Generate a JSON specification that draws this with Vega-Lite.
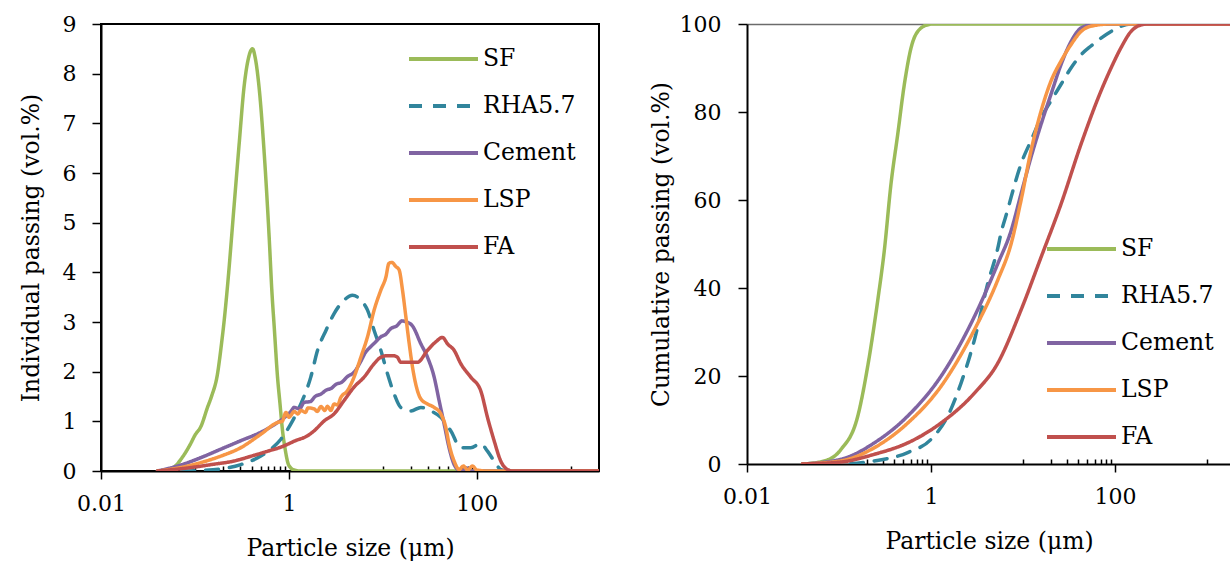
{
  "$schema": "https://vega.github.io/schema/vega-lite/v6.json",
  "background": "white",
  "padding": {"left": 18, "top": 12, "right": 0, "bottom": 0},
  "config": {
    "font": "DejaVu Serif",
    "view": {"stroke": "black", "strokeWidth": 2},
    "axis": {
      "labelFont": "DejaVu Serif", "titleFont": "DejaVu Serif",
      "labelFontSize": 22, "titleFontSize": 23.5, "titleFontWeight": "normal",
      "labelColor": "black", "titleColor": "black",
      "domainColor": "black", "tickColor": "black", "domainWidth": 2, "tickWidth": 1.5, "grid": false
    },
    "legend": {
      "title": null, "labelFont": "DejaVu Serif", "labelFontSize": 23.5, "labelColor": "black",
      "symbolType": "stroke", "symbolSize": 4761, "symbolStrokeWidth": 4, "clipHeight": 24,
      "rowPadding": 23, "labelOffset": 3, "padding": 0, "symbolOffset": 0, "orient": "none"
    }
  },
  "datasets": {
    "ind": [
      {"m":"SF","d":0.04,"v":0},{"m":"SF","d":0.05,"v":0.02},{"m":"SF","d":0.06,"v":0.08},{"m":"SF","d":0.075,"v":0.3},{"m":"SF","d":0.09,"v":0.55},{"m":"SF","d":0.1,"v":0.72},{"m":"SF","d":0.116,"v":0.9},{"m":"SF","d":0.136,"v":1.28},{"m":"SF","d":0.15,"v":1.5},{"m":"SF","d":0.174,"v":1.96},{"m":"SF","d":0.19,"v":2.5},{"m":"SF","d":0.205,"v":3.04},{"m":"SF","d":0.224,"v":3.8},{"m":"SF","d":0.26,"v":5.3},{"m":"SF","d":0.296,"v":6.6},{"m":"SF","d":0.334,"v":7.75},{"m":"SF","d":0.37,"v":8.3},{"m":"SF","d":0.41,"v":8.5},{"m":"SF","d":0.44,"v":8.3},{"m":"SF","d":0.483,"v":7.7},{"m":"SF","d":0.546,"v":6.4},{"m":"SF","d":0.617,"v":4.7},{"m":"SF","d":0.66,"v":3.6},{"m":"SF","d":0.698,"v":2.9},{"m":"SF","d":0.76,"v":1.85},{"m":"SF","d":0.8,"v":1.4},{"m":"SF","d":0.857,"v":0.8},{"m":"SF","d":0.92,"v":0.4},{"m":"SF","d":0.97,"v":0.18},{"m":"SF","d":1.05,"v":0.06},{"m":"SF","d":1.14,"v":0.02},{"m":"SF","d":1.3,"v":0},{"m":"SF","d":2000,"v":0},
      {"m":"RHA5.7","d":0.04,"v":0},{"m":"RHA5.7","d":0.07,"v":0},{"m":"RHA5.7","d":0.116,"v":0.01},{"m":"RHA5.7","d":0.189,"v":0.04},{"m":"RHA5.7","d":0.308,"v":0.13},{"m":"RHA5.7","d":0.503,"v":0.3},{"m":"RHA5.7","d":0.644,"v":0.44},{"m":"RHA5.7","d":0.822,"v":0.64},{"m":"RHA5.7","d":1.05,"v":0.95},{"m":"RHA5.7","d":1.34,"v":1.35},{"m":"RHA5.7","d":1.71,"v":1.89},{"m":"RHA5.7","d":2.02,"v":2.43},{"m":"RHA5.7","d":2.48,"v":2.83},{"m":"RHA5.7","d":3.03,"v":3.17},{"m":"RHA5.7","d":3.87,"v":3.44},{"m":"RHA5.7","d":4.75,"v":3.54},{"m":"RHA5.7","d":5.83,"v":3.44},{"m":"RHA5.7","d":6.87,"v":3.24},{"m":"RHA5.7","d":8.08,"v":2.83},{"m":"RHA5.7","d":9.52,"v":2.43},{"m":"RHA5.7","d":11.2,"v":1.96},{"m":"RHA5.7","d":13.2,"v":1.55},{"m":"RHA5.7","d":15.5,"v":1.28},{"m":"RHA5.7","d":19.9,"v":1.21},{"m":"RHA5.7","d":25.4,"v":1.28},{"m":"RHA5.7","d":32.4,"v":1.21},{"m":"RHA5.7","d":41.4,"v":1.08},{"m":"RHA5.7","d":52.8,"v":0.81},{"m":"RHA5.7","d":67.6,"v":0.47},{"m":"RHA5.7","d":86.3,"v":0.47},{"m":"RHA5.7","d":110,"v":0.55},{"m":"RHA5.7","d":130,"v":0.4},{"m":"RHA5.7","d":153,"v":0.2},{"m":"RHA5.7","d":180,"v":0.03},{"m":"RHA5.7","d":212,"v":0},{"m":"RHA5.7","d":2000,"v":0},
      {"m":"Cement","d":0.04,"v":0},{"m":"Cement","d":0.071,"v":0.12},{"m":"Cement","d":0.116,"v":0.27},{"m":"Cement","d":0.189,"v":0.44},{"m":"Cement","d":0.308,"v":0.61},{"m":"Cement","d":0.503,"v":0.78},{"m":"Cement","d":0.764,"v":0.98},{"m":"Cement","d":0.93,"v":1.1},{"m":"Cement","d":1.05,"v":1.2},{"m":"Cement","d":1.14,"v":1.28},{"m":"Cement","d":1.3,"v":1.25},{"m":"Cement","d":1.45,"v":1.38},{"m":"Cement","d":1.7,"v":1.4},{"m":"Cement","d":1.9,"v":1.5},{"m":"Cement","d":2.2,"v":1.55},{"m":"Cement","d":2.5,"v":1.63},{"m":"Cement","d":2.8,"v":1.66},{"m":"Cement","d":3.2,"v":1.75},{"m":"Cement","d":3.6,"v":1.78},{"m":"Cement","d":4.2,"v":1.9},{"m":"Cement","d":5,"v":2.0},{"m":"Cement","d":5.8,"v":2.2},{"m":"Cement","d":6.5,"v":2.38},{"m":"Cement","d":7.4,"v":2.5},{"m":"Cement","d":8.4,"v":2.6},{"m":"Cement","d":9.5,"v":2.7},{"m":"Cement","d":10.7,"v":2.75},{"m":"Cement","d":12.2,"v":2.87},{"m":"Cement","d":14,"v":2.92},{"m":"Cement","d":16,"v":3.02},{"m":"Cement","d":18,"v":3.0},{"m":"Cement","d":20.7,"v":2.92},{"m":"Cement","d":25.4,"v":2.56},{"m":"Cement","d":29.9,"v":2.29},{"m":"Cement","d":35.2,"v":1.89},{"m":"Cement","d":39.7,"v":1.42},{"m":"Cement","d":44.9,"v":0.95},{"m":"Cement","d":50.7,"v":0.47},{"m":"Cement","d":57.4,"v":0.13},{"m":"Cement","d":64,"v":0.02},{"m":"Cement","d":70,"v":0},{"m":"Cement","d":78,"v":0.06},{"m":"Cement","d":85,"v":0},{"m":"Cement","d":2000,"v":0},
      {"m":"LSP","d":0.04,"v":0},{"m":"LSP","d":0.071,"v":0.07},{"m":"LSP","d":0.116,"v":0.17},{"m":"LSP","d":0.189,"v":0.3},{"m":"LSP","d":0.308,"v":0.47},{"m":"LSP","d":0.503,"v":0.74},{"m":"LSP","d":0.764,"v":0.98},{"m":"LSP","d":0.85,"v":1.0},{"m":"LSP","d":0.93,"v":1.18},{"m":"LSP","d":1.0,"v":1.08},{"m":"LSP","d":1.05,"v":1.12},{"m":"LSP","d":1.14,"v":1.2},{"m":"LSP","d":1.25,"v":1.15},{"m":"LSP","d":1.34,"v":1.22},{"m":"LSP","d":1.5,"v":1.18},{"m":"LSP","d":1.6,"v":1.27},{"m":"LSP","d":1.86,"v":1.25},{"m":"LSP","d":2.0,"v":1.2},{"m":"LSP","d":2.2,"v":1.3},{"m":"LSP","d":2.4,"v":1.22},{"m":"LSP","d":2.58,"v":1.3},{"m":"LSP","d":2.8,"v":1.22},{"m":"LSP","d":3.03,"v":1.35},{"m":"LSP","d":3.3,"v":1.33},{"m":"LSP","d":3.57,"v":1.48},{"m":"LSP","d":4.21,"v":1.62},{"m":"LSP","d":4.94,"v":1.89},{"m":"LSP","d":5.83,"v":2.29},{"m":"LSP","d":6.87,"v":2.7},{"m":"LSP","d":8.08,"v":3.24},{"m":"LSP","d":9.52,"v":3.64},{"m":"LSP","d":10.8,"v":3.91},{"m":"LSP","d":11.6,"v":4.18},{"m":"LSP","d":12.5,"v":4.2},{"m":"LSP","d":13.7,"v":4.12},{"m":"LSP","d":14.9,"v":4.05},{"m":"LSP","d":16.2,"v":3.64},{"m":"LSP","d":17.6,"v":3.1},{"m":"LSP","d":19.1,"v":2.56},{"m":"LSP","d":20.7,"v":2.09},{"m":"LSP","d":22.4,"v":1.75},{"m":"LSP","d":25.4,"v":1.45},{"m":"LSP","d":29.9,"v":1.35},{"m":"LSP","d":35.2,"v":1.28},{"m":"LSP","d":41.4,"v":1.15},{"m":"LSP","d":46.8,"v":0.88},{"m":"LSP","d":50.7,"v":0.54},{"m":"LSP","d":57.4,"v":0.2},{"m":"LSP","d":64.9,"v":0.03},{"m":"LSP","d":72,"v":0.1},{"m":"LSP","d":80,"v":0.02},{"m":"LSP","d":90,"v":0.1},{"m":"LSP","d":100,"v":0.02},{"m":"LSP","d":130,"v":0},{"m":"LSP","d":2000,"v":0},
      {"m":"FA","d":0.04,"v":0},{"m":"FA","d":0.06,"v":0.03},{"m":"FA","d":0.1,"v":0.08},{"m":"FA","d":0.15,"v":0.13},{"m":"FA","d":0.26,"v":0.2},{"m":"FA","d":0.4,"v":0.3},{"m":"FA","d":0.6,"v":0.4},{"m":"FA","d":0.82,"v":0.48},{"m":"FA","d":0.975,"v":0.54},{"m":"FA","d":1.14,"v":0.6},{"m":"FA","d":1.58,"v":0.71},{"m":"FA","d":1.86,"v":0.81},{"m":"FA","d":2.38,"v":1.01},{"m":"FA","d":3.03,"v":1.15},{"m":"FA","d":3.87,"v":1.42},{"m":"FA","d":4.94,"v":1.69},{"m":"FA","d":6.32,"v":1.89},{"m":"FA","d":8.08,"v":2.16},{"m":"FA","d":9.52,"v":2.29},{"m":"FA","d":11,"v":2.32},{"m":"FA","d":13,"v":2.32},{"m":"FA","d":14.3,"v":2.29},{"m":"FA","d":15.5,"v":2.19},{"m":"FA","d":19,"v":2.19},{"m":"FA","d":23.4,"v":2.19},{"m":"FA","d":29.9,"v":2.43},{"m":"FA","d":36.6,"v":2.6},{"m":"FA","d":43.2,"v":2.69},{"m":"FA","d":48.8,"v":2.56},{"m":"FA","d":57.4,"v":2.43},{"m":"FA","d":67.6,"v":2.16},{"m":"FA","d":86.3,"v":1.89},{"m":"FA","d":110,"v":1.62},{"m":"FA","d":130,"v":1.08},{"m":"FA","d":153,"v":0.61},{"m":"FA","d":180,"v":0.2},{"m":"FA","d":212,"v":0.03},{"m":"FA","d":240,"v":0},{"m":"FA","d":2000,"v":0}
    ],
    "cum": [
      {"m":"SF","d":0.04,"v":0},{"m":"SF","d":0.069,"v":0.68},{"m":"SF","d":0.105,"v":3.3},{"m":"SF","d":0.16,"v":10.9},{"m":"SF","d":0.205,"v":22.2},{"m":"SF","d":0.264,"v":37.3},{"m":"SF","d":0.311,"v":48.6},{"m":"SF","d":0.367,"v":63.6},{"m":"SF","d":0.435,"v":75},{"m":"SF","d":0.513,"v":86.3},{"m":"SF","d":0.607,"v":94.6},{"m":"SF","d":0.778,"v":99.1},{"m":"SF","d":0.92,"v":99.8},{"m":"SF","d":1,"v":100},{"m":"SF","d":2000,"v":100},
      {"m":"RHA5.7","d":0.04,"v":0},{"m":"RHA5.7","d":0.105,"v":0},{"m":"RHA5.7","d":0.242,"v":0.7},{"m":"RHA5.7","d":0.558,"v":2.6},{"m":"RHA5.7","d":1,"v":5.6},{"m":"RHA5.7","d":1.52,"v":10.9},{"m":"RHA5.7","d":2.12,"v":18.4},{"m":"RHA5.7","d":2.96,"v":28.2},{"m":"RHA5.7","d":4.13,"v":41},{"m":"RHA5.7","d":5.31,"v":49},{"m":"RHA5.7","d":5.77,"v":52.5},{"m":"RHA5.7","d":6.82,"v":57.8},{"m":"RHA5.7","d":7.41,"v":60.6},{"m":"RHA5.7","d":9.51,"v":68.2},{"m":"RHA5.7","d":12.2,"v":73.5},{"m":"RHA5.7","d":15.7,"v":78.7},{"m":"RHA5.7","d":20.1,"v":82.5},{"m":"RHA5.7","d":25.9,"v":86.3},{"m":"RHA5.7","d":33.2,"v":90},{"m":"RHA5.7","d":42.7,"v":93},{"m":"RHA5.7","d":54.8,"v":95},{"m":"RHA5.7","d":70.4,"v":96.8},{"m":"RHA5.7","d":90.5,"v":98.3},{"m":"RHA5.7","d":116,"v":99.5},{"m":"RHA5.7","d":149,"v":100},{"m":"RHA5.7","d":2000,"v":100},
      {"m":"Cement","d":0.04,"v":0},{"m":"Cement","d":0.105,"v":1.06},{"m":"Cement","d":0.242,"v":4.8},{"m":"Cement","d":0.558,"v":10.9},{"m":"Cement","d":1.28,"v":19.9},{"m":"Cement","d":2.96,"v":33.5},{"m":"Cement","d":5.31,"v":45.5},{"m":"Cement","d":7.41,"v":53},{"m":"Cement","d":9.51,"v":61.4},{"m":"Cement","d":12.2,"v":69.7},{"m":"Cement","d":15.7,"v":77.2},{"m":"Cement","d":20.1,"v":84},{"m":"Cement","d":25.9,"v":90.8},{"m":"Cement","d":33.2,"v":96},{"m":"Cement","d":42.7,"v":99.1},{"m":"Cement","d":54.8,"v":99.8},{"m":"Cement","d":70,"v":100},{"m":"Cement","d":2000,"v":100},
      {"m":"LSP","d":0.04,"v":0},{"m":"LSP","d":0.105,"v":0.7},{"m":"LSP","d":0.242,"v":3.7},{"m":"LSP","d":0.558,"v":9.3},{"m":"LSP","d":1.28,"v":17.6},{"m":"LSP","d":2.96,"v":30.5},{"m":"LSP","d":5.31,"v":41.8},{"m":"LSP","d":7.41,"v":50},{"m":"LSP","d":9.51,"v":59.9},{"m":"LSP","d":12.2,"v":71.2},{"m":"LSP","d":15.7,"v":80.2},{"m":"LSP","d":20.1,"v":87},{"m":"LSP","d":25.9,"v":91.6},{"m":"LSP","d":33.2,"v":95.3},{"m":"LSP","d":42.7,"v":98.3},{"m":"LSP","d":54.8,"v":99.5},{"m":"LSP","d":90,"v":100},{"m":"LSP","d":2000,"v":100},
      {"m":"FA","d":0.04,"v":0},{"m":"FA","d":0.105,"v":0.45},{"m":"FA","d":0.242,"v":2.2},{"m":"FA","d":0.558,"v":4.8},{"m":"FA","d":1.28,"v":9.3},{"m":"FA","d":2.96,"v":16.1},{"m":"FA","d":5.31,"v":22.9},{"m":"FA","d":9.51,"v":35},{"m":"FA","d":15.7,"v":47},{"m":"FA","d":25.9,"v":59.1},{"m":"FA","d":42.7,"v":72.7},{"m":"FA","d":70.4,"v":84.8},{"m":"FA","d":90.5,"v":90},{"m":"FA","d":116,"v":94.6},{"m":"FA","d":149,"v":98.3},{"m":"FA","d":192,"v":99.8},{"m":"FA","d":230,"v":100},{"m":"FA","d":2000,"v":100}
    ]
  },
  "spacing": 49,
  "resolve": {
    "scale": {"color": "independent", "strokeDash": "independent"},
    "legend": {"color": "independent", "strokeDash": "independent"}
  },
  "hconcat": [
    {
      "width": 498, "height": 447,
      "data": {"name": "ind"},
      "mark": {"type": "line", "strokeWidth": 3.5, "interpolate": "monotone", "strokeCap": "round", "strokeJoin": "round", "clip": true},
      "encoding": {
        "x": {
          "field": "d", "type": "quantitative",
          "scale": {"type": "log", "domain": [0.01, 2000], "nice": false},
          "axis": {
            "title": "Particle size (μm)", "format": "~g",
            "values": [0.01, 0.1, 0.2, 0.3, 0.4, 0.5, 0.6, 0.7, 0.8, 0.9, 1, 10, 20, 30, 40, 50, 60, 70, 80, 90, 100, 1000],
            "labelExpr": "(datum.value == 0.01 || datum.value == 1 || datum.value == 100) ? datum.label : ''",
            "tickSize": {"condition": {"test": "datum.value == 0.01 || datum.value == 1 || datum.value == 100", "value": 8}, "value": -5},
            "labelPadding": 14, "titlePadding": 22, "labelFlush": false, "labelOverlap": false
          }
        },
        "y": {
          "field": "v", "type": "quantitative",
          "scale": {"domain": [0, 9], "nice": false},
          "axis": {"title": "Individual passing (vol.%)", "values": [0,1,2,3,4,5,6,7,8,9], "tickSize": 9, "labelPadding": 16, "titlePadding": 19}
        },
        "color": {
          "field": "m", "type": "nominal",
          "scale": {"domain": ["SF", "RHA5.7", "Cement", "LSP", "FA"], "range": ["#9BBB59", "#31859C", "#8064A2", "#F79646", "#C0504D"]},
          "legend": {"legendX": 306, "legendY": 23}
        },
        "strokeDash": {
          "field": "m", "type": "nominal",
          "scale": {"domain": ["SF", "RHA5.7", "Cement", "LSP", "FA"], "range": [[1, 0], [13, 11], [1, 0], [1, 0], [1, 0]]},
          "legend": {"legendX": 306, "legendY": 23}
        }
      }
    },
    {
      "width": 484, "height": 440,
      "view": {"stroke": null},
      "data": {"name": "cum"},
      "mark": {"type": "line", "strokeWidth": 3.5, "interpolate": "monotone", "strokeCap": "round", "strokeJoin": "round", "clip": true},
      "encoding": {
        "x": {
          "field": "d", "type": "quantitative",
          "scale": {"type": "log", "domain": [0.01, 1820], "nice": false},
          "axis": {
            "title": "Particle size (μm)", "format": "~g",
            "values": [0.01, 0.1, 0.2, 0.3, 0.4, 0.5, 0.6, 0.7, 0.8, 0.9, 1, 10, 20, 30, 40, 50, 60, 70, 80, 90, 100, 1000],
            "labelExpr": "(datum.value == 0.01 || datum.value == 1 || datum.value == 100) ? datum.label : ''",
            "tickSize": {"condition": {"test": "datum.value == 0.01 || datum.value == 1 || datum.value == 100", "value": 8}, "value": -5},
            "labelPadding": 14, "titlePadding": 22, "labelFlush": false, "labelOverlap": false
          }
        },
        "y": {
          "field": "v", "type": "quantitative",
          "scale": {"domain": [0, 100], "nice": false},
          "axis": {
            "title": "Cumulative passing (vol.%)", "values": [0, 20, 40, 60, 80, 100], "tickSize": 9, "labelPadding": 17, "titlePadding": 6,
            "grid": true, "gridColor": "#6b6b6b", "gridWidth": 1.5,
            "gridOpacity": {"condition": {"test": "datum.value == 100", "value": 1}, "value": 0}
          }
        },
        "color": {
          "field": "m", "type": "nominal",
          "scale": {"domain": ["SF", "RHA5.7", "Cement", "LSP", "FA"], "range": ["#9BBB59", "#31859C", "#8064A2", "#F79646", "#C0504D"]},
          "legend": {"legendX": 298, "legendY": 213}
        },
        "strokeDash": {
          "field": "m", "type": "nominal",
          "scale": {"domain": ["SF", "RHA5.7", "Cement", "LSP", "FA"], "range": [[1, 0], [13, 11], [1, 0], [1, 0], [1, 0]]},
          "legend": {"legendX": 298, "legendY": 213}
        }
      }
    }
  ]
}
